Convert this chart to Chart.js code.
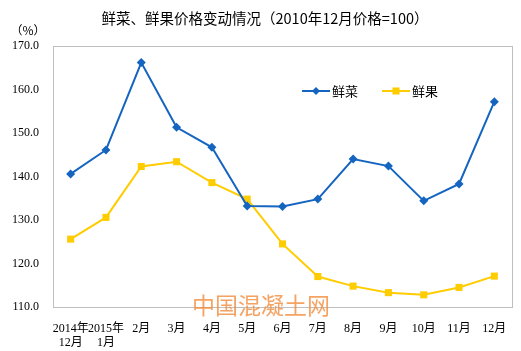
<!DOCTYPE html>
<html>
<head>
<meta charset="utf-8">
<script src="https://cdn.jsdelivr.net/npm/chart.js@4"></script>
<style>
  html, body { margin: 0; padding: 0; background: #fff; }
  #wrap { width: 521px; height: 351px; }
</style>
</head>
<body>
<div id="wrap"><canvas id="price-chart"></canvas></div>
<script>
const months = [['2014年', '12月'], ['2015年', '1月'], '2月', '3月', '4月', '5月', '6月', '7月', '8月', '9月', '10月', '11月', '12月'];
const vegetables = [140.6, 146.1, 166.2, 151.3, 146.7, 133.2, 133.1, 134.8, 144.0, 142.4, 134.4, 138.3, 157.2];
const fruits = [125.6, 130.6, 142.3, 143.4, 138.6, 134.8, 124.5, 117.0, 114.8, 113.3, 112.8, 114.5, 117.1];
const seriesNames = ['鲜菜', '鲜果'];
const yTicks = [110, 120, 130, 140, 150, 160, 170];

const BLUE = '#1565c0';
const YELLOW = '#ffcc00';
const FRAME = '#bfbfbf';
const FONT = '"Liberation Serif", "Noto Sans CJK SC", serif';

// title, unit, frame, legend and watermark
const decorations = {
  id: 'decorations',
  afterDatasetsDraw(chart) {
    const { ctx, chartArea: a } = chart;
    ctx.save();
    ctx.strokeStyle = FRAME;
    ctx.lineWidth = 1;
    ctx.strokeRect(Math.round(a.left) + 0.5, Math.round(a.top) + 0.5, Math.round(a.right - a.left), Math.round(a.bottom - a.top));

    ctx.fillStyle = '#000';
    ctx.textBaseline = 'middle';
    ctx.font = '14.5px "Noto Sans CJK SC", sans-serif';
    ctx.textAlign = 'center';
    ctx.fillText('鲜菜、鲜果价格变动情况（2010年12月价格=100）', 265, 18);
    ctx.font = '12px "Noto Sans CJK SC", sans-serif';
    ctx.fillText('（%）', 28, 30);

    // legend
    const items = [
      { x: 302, color: BLUE, style: 'rectRot', r: 4 },
      { x: 382, color: YELLOW, style: 'rect', r: 5 }
    ];
    items.forEach((it, i) => {
      const y = 91;
      ctx.strokeStyle = it.color;
      ctx.lineWidth = 2;
      ctx.beginPath();
      ctx.moveTo(it.x, y);
      ctx.lineTo(it.x + 28, y);
      ctx.stroke();
      ctx.fillStyle = it.color;
      Chart.helpers.drawPoint(ctx, { pointStyle: it.style, radius: it.r, borderWidth: 0 }, it.x + 14, y);
      ctx.fillStyle = '#000';
      ctx.font = '13px "Noto Sans CJK SC", sans-serif';
      ctx.textAlign = 'left';
      ctx.fillText(seriesNames[i], it.x + 30, y);
    });

    // watermark
    ctx.fillStyle = 'rgba(242, 140, 60, 0.8)';
    ctx.font = '23px "Noto Sans CJK SC", sans-serif';
    ctx.textAlign = 'left';
    ctx.fillText('中国混凝土网', 192, 305);
    ctx.restore();
  }
};

new Chart(document.getElementById('price-chart'), {
  type: 'line',
  data: {
    labels: months,
    datasets: [
      {
        label: seriesNames[0],
        data: vegetables,
        borderColor: BLUE,
        backgroundColor: BLUE,
        borderWidth: 2,
        pointStyle: 'rectRot',
        pointRadius: 4.5,
        pointBorderWidth: 0,
        tension: 0
      },
      {
        label: seriesNames[1],
        data: fruits,
        borderColor: YELLOW,
        backgroundColor: YELLOW,
        borderWidth: 2,
        pointStyle: 'rect',
        pointRadius: 5,
        pointBorderWidth: 0,
        tension: 0
      }
    ]
  },
  plugins: [decorations],
  options: {
    responsive: true,
    maintainAspectRatio: false,
    animation: false,
    layout: { padding: { top: 46, right: 9, bottom: 0, left: 0 } },
    plugins: {
      legend: { display: false },
      title: { display: false },
      tooltip: { enabled: false }
    },
    scales: {
      x: {
        offset: true,
        grid: { display: false },
        border: { display: false },
        ticks: {
          color: '#000',
          font: { family: FONT, size: 12, lineHeight: 1.15 },
          maxRotation: 0,
          autoSkip: false,
          padding: 7
        },
        afterFit(scale) { scale.height = 44; }
      },
      y: {
        min: 110,
        max: 170,
        afterBuildTicks(scale) { scale.ticks = yTicks.map(v => ({ value: v })); },
        grid: { display: false },
        border: { display: false },
        ticks: {
          color: '#000',
          font: { family: FONT, size: 12 },
          padding: 6,
          callback: v => v.toFixed(1)
        },
        afterFit(scale) { scale.width = 53; }
      }
    }
  }
});
</script>
</body>
</html>
